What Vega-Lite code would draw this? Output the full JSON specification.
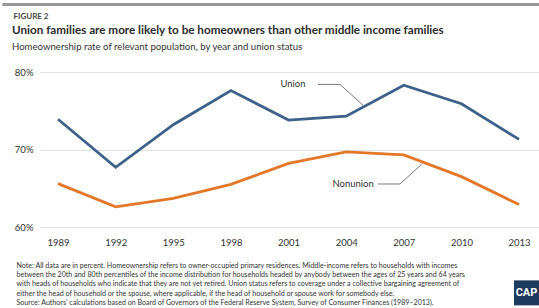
{
  "$schema": "https://vega.github.io/schema/vega-lite/v6.json",
  "autosize": "none",
  "width": 499,
  "height": 155,
  "padding": {"left": 40, "top": 72, "right": 0, "bottom": 81},
  "background": "white",
  "config": {
    "view": {"stroke": null},
    "font": "Lato",
    "axis": {"labelFont": "Lato", "titleFont": "Lato", "labelColor": "#333", "labelFontSize": 9.5}
  },
  "title": {
    "text": "Union families are more likely to be homeowners than other middle income families",
    "subtitle": "Homeownership rate of relevant population, by year and union status",
    "anchor": "start",
    "frame": "group",
    "dx": -28,
    "offset": -49,
    "font": "Lato",
    "fontSize": 11.7,
    "fontWeight": "bold",
    "color": "#2b2b2b",
    "subtitleFont": "Lato",
    "subtitleFontSize": 9.6,
    "subtitleColor": "#333",
    "subtitlePadding": 6
  },
  "datasets": {
    "main": [
      {"year": 1989, "status": "Union", "rate": 73.9},
      {"year": 1992, "status": "Union", "rate": 67.7},
      {"year": 1995, "status": "Union", "rate": 73.2},
      {"year": 1998, "status": "Union", "rate": 77.6},
      {"year": 2001, "status": "Union", "rate": 73.8},
      {"year": 2004, "status": "Union", "rate": 74.3},
      {"year": 2007, "status": "Union", "rate": 78.3},
      {"year": 2010, "status": "Union", "rate": 75.9},
      {"year": 2013, "status": "Union", "rate": 71.3},
      {"year": 1989, "status": "Nonunion", "rate": 65.6},
      {"year": 1992, "status": "Nonunion", "rate": 62.6},
      {"year": 1995, "status": "Nonunion", "rate": 63.7},
      {"year": 1998, "status": "Nonunion", "rate": 65.5},
      {"year": 2001, "status": "Nonunion", "rate": 68.2},
      {"year": 2004, "status": "Nonunion", "rate": 69.7},
      {"year": 2007, "status": "Nonunion", "rate": 69.3},
      {"year": 2010, "status": "Nonunion", "rate": 66.5},
      {"year": 2013, "status": "Nonunion", "rate": 62.9}
    ],
    "labels": [
      {"label": "Union", "year": 2001.23, "rate": 78.4},
      {"label": "Nonunion", "year": 2004.36, "rate": 65.55}
    ],
    "leaders": [
      {"series": "Union", "step": 1, "year": 2002.53, "rate": 78.4},
      {"series": "Union", "step": 2, "year": 2003.68, "rate": 78.4},
      {"series": "Union", "step": 3, "year": 2004.88, "rate": 75.7},
      {"series": "Nonunion", "step": 1, "year": 2005.66, "rate": 65.55},
      {"series": "Nonunion", "step": 2, "year": 2006.8, "rate": 65.55},
      {"series": "Nonunion", "step": 3, "year": 2007.93, "rate": 68.1}
    ],
    "logo": [
      {"name": "CAP", "year": 2013.39, "rate": 51.5}
    ],
    "frame": [
      {"start": 1986.1, "end": 2014.04, "level": 88.7}
    ]
  },
  "layer": [
    {
      "data": {"name": "main"},
      "mark": {"type": "line", "strokeWidth": 2.8},
      "encoding": {
        "x": {
          "field": "year", "type": "quantitative",
          "scale": {"domain": [1988.06, 2014.04], "nice": false, "zero": false},
          "axis": {
            "values": [1989, 1992, 1995, 1998, 2001, 2004, 2007, 2010, 2013],
            "format": "d", "grid": false, "domain": false, "ticks": false,
            "labelPadding": 10,
            "title": [
              "Note: All data are in percent. Homeownership refers to owner-occupied primary residences. Middle-income refers to households with incomes",
              "between the 20th and 80th percentiles of the income distribution for households headed by anybody between the ages of 25 years and 64 years",
              "with heads of households who indicate that they are not yet retired. Union status refers to coverage under a collective bargaining agreement of",
              "either the head of household or the spouse, where applicable, if the head of household or spouse work for somebody else.",
              "Source: Authors' calculations based on Board of Governors of the Federal Reserve System, Survey of Consumer Finances (1989\u20132013)."
            ],
            "titleX": -24, "titleY": 34, "titleAlign": "left", "titleBaseline": "top",
            "titleAnchor": null,
            "titleFontSize": 7.1, "titleFontWeight": "normal", "titleColor": "#333",
            "titleLineHeight": 9.4
          }
        },
        "y": {
          "field": "rate", "type": "quantitative",
          "scale": {"domain": [60, 80], "nice": false, "zero": false},
          "axis": {
            "values": [60, 70, 80],
            "labelExpr": "datum.value + '%'",
            "grid": true, "gridColor": "#e2e2e2", "gridWidth": 1,
            "domain": false, "ticks": false, "labelPadding": 7,
            "title": "FIGURE 2",
            "titleAngle": 0, "titleAlign": "left", "titleBaseline": "alphabetic",
            "titleX": -27, "titleY": -54,
            "titleFontSize": 8, "titleFontWeight": "bold", "titleColor": "#444"
          }
        },
        "color": {
          "field": "status", "type": "nominal",
          "scale": {"domain": ["Union", "Nonunion"], "range": ["#3d6189", "#e3782a"]},
          "legend": null
        }
      }
    },
    {
      "data": {"name": "frame"},
      "mark": {"type": "rule", "color": "#999999", "strokeWidth": 3, "clip": false},
      "encoding": {
        "x": {"field": "start", "type": "quantitative"},
        "x2": {"field": "end"},
        "y": {"field": "level", "type": "quantitative"}
      }
    },
    {
      "data": {"name": "leaders"},
      "mark": {"type": "line", "color": "#555", "strokeWidth": 0.8},
      "encoding": {
        "x": {"field": "year", "type": "quantitative"},
        "y": {"field": "rate", "type": "quantitative"},
        "detail": {"field": "series"},
        "order": {"field": "step"}
      }
    },
    {
      "data": {"name": "labels"},
      "mark": {"type": "text", "fontSize": 9.5, "color": "#333", "align": "center", "baseline": "middle", "font": "Lato"},
      "encoding": {
        "x": {"field": "year", "type": "quantitative"},
        "y": {"field": "rate", "type": "quantitative"},
        "text": {"field": "label"}
      }
    },
    {
      "data": {"name": "logo"},
      "mark": {"type": "square", "size": 625, "color": "#1e3a5f", "opacity": 1, "clip": false},
      "encoding": {
        "x": {"field": "year", "type": "quantitative"},
        "y": {"field": "rate", "type": "quantitative"}
      }
    },
    {
      "data": {"name": "logo"},
      "mark": {"type": "text", "fontSize": 11, "fontWeight": "bold", "color": "white", "align": "center", "baseline": "middle", "font": "Roboto", "clip": false},
      "encoding": {
        "x": {"field": "year", "type": "quantitative"},
        "y": {"field": "rate", "type": "quantitative"},
        "text": {"field": "name"}
      }
    }
  ]
}
